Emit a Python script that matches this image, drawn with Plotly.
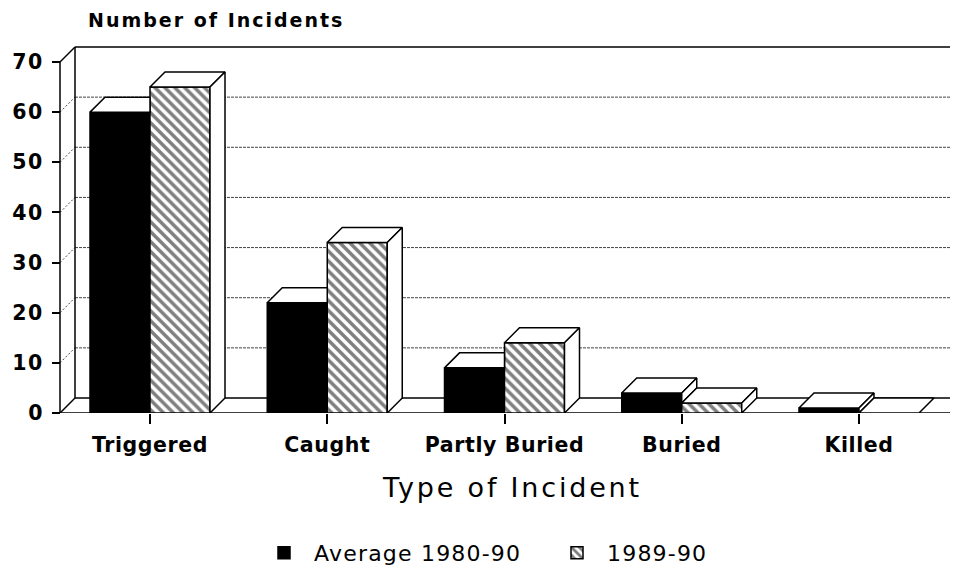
import plotly.graph_objects as go

# ---------------- data ----------------
categories = ["Triggered", "Caught", "Partly Buried", "Buried", "Killed"]
avg_1980_90 = [60, 22, 9, 4, 1]
season_1989_90 = [65, 34, 14, 2, 0]
y_ticks = [0, 10, 20, 30, 40, 50, 60, 70]
series_names = ["Average 1980-90", "1989-90"]
y_title = "Number of Incidents"
x_title = "Type of Incident"

# ---------------- geometry ----------------
# The page body has an 8px default margin, so the figure is drawn 8px
# right/down of the window origin; positions below are window pixels.
OFF = 8
W, H = 958, 570
PLOT_L, PLOT_R, PLOT_T, PLOT_B = 50, 958, 42, 413   # window pixels
ML = PLOT_L - OFF
MR = W - (PLOT_R - OFF)
MT = PLOT_T - OFF
MB = H - (PLOT_B - OFF)
plot_w = W - ML - MR
plot_h = H - MT - MB

PX_PER_CAT = 177.25      # horizontal pixels per category
FIRST_CAT_PX = 150       # window x of first category centre
AXIS_PX = 60             # window x of front value axis
PX_PER_UNIT = (PLOT_B - 62) / 70.0   # vertical pixels per value unit

x_lo = (PLOT_L - FIRST_CAT_PX) / PX_PER_CAT
x_hi = (PLOT_R - FIRST_CAT_PX) / PX_PER_CAT
y_hi = plot_h / PX_PER_UNIT

bar_w = 60 / PX_PER_CAT
dx = 15 / PX_PER_CAT
dy = 15 / PX_PER_UNIT
x0 = (AXIS_PX - FIRST_CAT_PX) / PX_PER_CAT
x_floor_end = (950 - FIRST_CAT_PX) / PX_PER_CAT


def paper_x(px):
    return (px - OFF - ML) / plot_w


def paper_y(py):
    return (MT + plot_h - (py - OFF)) / plot_h


def spaced(txt, sp):
    return f'<span style="letter-spacing:{sp}px">{txt}</span>'


FONT = "DejaVu Sans"

# ---------------- 3D faces (derived from values) ----------------
def add_poly(xs, ys, pts):
    for (a, b) in pts:
        xs.append(a)
        ys.append(b)
    xs.append(pts[0][0])
    ys.append(pts[0][1])
    xs.append(None)
    ys.append(None)


bt_x, bt_y, bs_x, bs_y = [], [], [], []
ht_x, ht_y, hs_x, hs_y = [], [], [], []
for i, (b, h) in enumerate(zip(avg_1980_90, season_1989_90)):
    xl, xm, xr = i - bar_w, i, i + bar_w
    # black bar top face (clipped by the hatched front face when it is taller)
    if h >= b + dy:
        pts = [(xl, b), (xl + dx, b + dy), (xm, b + dy), (xm, b)]
    elif h > b:
        pts = [(xl, b), (xl + dx, b + dy), (xm + dx, b + dy),
               (xm + (h - b) / dy * dx, h), (xm, h), (xm, b)]
    else:
        pts = [(xl, b), (xl + dx, b + dy), (xm + dx, b + dy), (xm, b)]
    add_poly(bt_x, bt_y, pts)
    # black bar side face (visible part above the hatched bar)
    if b > h:
        add_poly(bs_x, bs_y, [(xm, h), (xm, b), (xm + dx, b + dy), (xm + dx, h + dy)])
    # hatched bar top + side
    add_poly(ht_x, ht_y, [(xm, h), (xm + dx, h + dy), (xr + dx, h + dy), (xr, h)])
    if h > 0:
        add_poly(hs_x, hs_y, [(xr, 0), (xr, h), (xr + dx, h + dy), (xr + dx, dy)])

fig = go.Figure()

idx = list(range(len(categories)))
fig.add_trace(go.Bar(
    x=idx, y=avg_1980_90, width=bar_w, offset=-bar_w,
    name=spaced(series_names[0], 1.2),
    marker=dict(color="black", line=dict(color="black", width=1.5)),
    hoverinfo="skip",
))
fig.add_trace(go.Bar(
    x=idx, y=season_1989_90, width=bar_w, offset=0,
    name=spaced(series_names[1], 1.2),
    marker=dict(color="white", line=dict(color="black", width=1.5),
                pattern=dict(shape="\\", fgcolor="black", bgcolor="white",
                             size=7, solidity=0.5)),
    hoverinfo="skip",
))

for xs, ys in [(bt_x, bt_y), (bs_x, bs_y), (ht_x, ht_y), (hs_x, hs_y)]:
    if xs:
        fig.add_trace(go.Scatter(
            x=xs, y=ys, mode="lines", fill="toself", fillcolor="white",
            line=dict(color="black", width=1.5), showlegend=False,
            hoverinfo="skip", connectgaps=False,
        ))

# ---------------- walls / floor / grid ----------------
shapes = []


def line(xa, ya, xb, yb, width=1.5, dash="solid", color="black"):
    shapes.append(dict(type="line", xref="x", yref="y", x0=xa, y0=ya, x1=xb, y1=yb,
                       layer="below", line=dict(color=color, width=width, dash=dash)))


top = y_ticks[-1]
for v in y_ticks:
    inner = v not in (0, top)
    if inner:
        line(x0 + dx, v + dy, x_hi, v + dy, width=1, dash="3px,1px", color="#444")
    line(x0, v, x0 + dx, v + dy, width=1 if inner else 1.5,
         dash="2px,2px" if inner else "solid", color="#444" if inner else "black")
line(x0 + dx, top + dy, x_hi, top + dy)
line(x0 + dx, dy, x0 + dx, top + dy)
line(x0, 0, x0, top)
line(x0, 0, x_floor_end, 0)
line(x0 + dx, dy, x_hi, dy)
line(x_floor_end, 0, x_floor_end + dx, dy)

fig.update_layout(
    width=W, height=H,
    margin=dict(l=ML, r=MR, t=MT, b=MB, autoexpand=False),
    paper_bgcolor="white", plot_bgcolor="white",
    barmode="overlay",
    shapes=shapes,
    font=dict(family=FONT, color="black"),
    xaxis=dict(
        range=[x_lo, x_hi], tickvals=idx,
        ticktext=[spaced(c, 0.6) for c in categories],
        ticks="outside", ticklen=10, tickwidth=1.5, tickcolor="black",
        showline=False, showgrid=False, zeroline=False,
        tickfont=dict(family=FONT, size=20.5, color="black", weight="bold"),
        ticklabelstandoff=3, fixedrange=True,
    ),
    yaxis=dict(
        range=[0, y_hi], tickvals=y_ticks,
        ticktext=[spaced(str(t), 1.5) for t in y_ticks],
        ticks="outside", ticklen=8, tickwidth=1.5, tickcolor="black",
        showline=False, showgrid=False, zeroline=False,
        anchor="free", position=paper_x(AXIS_PX),
        tickfont=dict(family=FONT, size=20.5, color="black", weight="bold"),
        ticklabelstandoff=4, fixedrange=True,
    ),
    legend=dict(
        orientation="h", x=paper_x(254), xanchor="left",
        y=paper_y(553), yanchor="middle",
        font=dict(family=FONT, size=22, color="black"),
        itemwidth=50, traceorder="normal",
        entrywidth=228, entrywidthmode="pixels",
    ),
    annotations=[
        dict(text=spaced(y_title, 2), xref="paper", yref="paper",
             x=paper_x(86), y=paper_y(20), xanchor="left", yanchor="middle",
             showarrow=False, font=dict(family=FONT, size=19, weight="bold")),
        dict(text=spaced(x_title, 2.8), xref="paper", yref="paper",
             x=paper_x(512), y=paper_y(487), xanchor="center", yanchor="middle",
             showarrow=False, font=dict(family=FONT, size=27)),
    ],
)

fig.write_html("out.html")
